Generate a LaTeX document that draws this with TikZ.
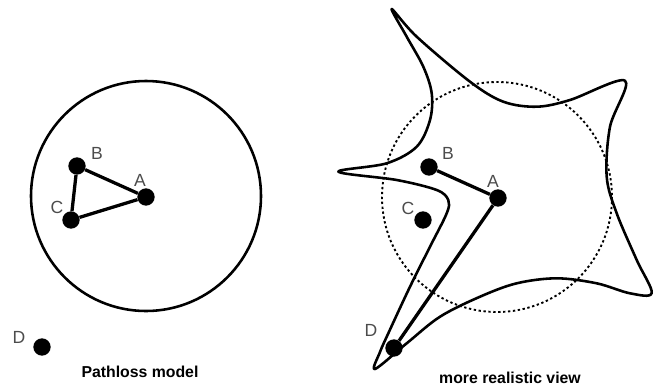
\documentclass[tikz,border=0pt]{standalone}
\usepackage{fontspec}
\setmainfont{Liberation Sans}
\usetikzlibrary{positioning}

\begin{document}
\begin{tikzpicture}[x=0.03cm,y=-0.03cm,
  dot/.style={circle,fill=black,inner sep=0pt,minimum size=0.52cm},
  lbl/.style={text=black!70,font=\fontsize{15}{15}\selectfont},
  captxt/.style={font=\bfseries\fontsize{13.5}{13.5}\selectfont},
  link/.style={line width=2.8pt}]
  \useasboundingbox (0,0) rectangle (654,386);

  % pathloss model
  \draw[line width=2.2pt] (146,196) circle[radius=115];
  \node[dot] (A1) at (146,197) {};
  \node[dot] (B1) at (77,166) {};
  \node[dot] (C1) at (71,220) {};
  \node[dot] (D1) at (42,347) {};
  \node[lbl] (lA1) at (140,180) {A};
  \node[lbl] (lB1) at (97,153) {B};
  \node[lbl] (lC1) at (57,207) {C};
  \node[lbl] (lD1) at (19,337) {D};
  \draw[link] (B1) -- (A1) -- (C1) -- (B1);
  \node[captxt] (pl) at (140,372) {Pathloss model};

  % more realistic view
  \draw[line width=1.6pt,dash pattern=on 2pt off 2.2pt] (497,197) circle[radius=115];
  \draw[line width=2.2pt,line join=round] plot[smooth cycle,tension=0.55] coordinates {
    (391.7,9) (416.7,36.7) (470,81.7) (503.3,101.7) (536.7,106.7) (570,100)
    (625,80.7) (610,126.7) (606.7,176.7) (616.7,213.3) (636.7,260)
    (651.7,293) (630,293.3) (596.7,283.3) (556.7,278.3) (516.7,283.3)
    (480,296.7) (440,316.7) (406.7,343.3) (375,369) (380,352)
    (388.3,333.3) (410,286.7) (430,246.7) (446.7,213.3) (448.3,200)
    (436.7,190) (396.7,180) (338.3,171.7) (386.7,163.3) (416.7,146.7)
    (430,120) (431.7,93.3) (423.3,66.7) (406.7,36.7)};
  \node[dot] (A2) at (498,198) {};
  \node[dot] (B2) at (429,167) {};
  \node[dot] (C2) at (423,220) {};
  \node[dot] (D2) at (394,348) {};
  \node[lbl] (lA2) at (493,181) {A};
  \node[lbl] (lB2) at (448,153) {B};
  \node[lbl] (lC2) at (408,208) {C};
  \node[lbl] (lD2) at (371,330) {D};
  \draw[link] (B2) -- (A2) -- (D2);
  \node[captxt] (rv) at (510,378) {more realistic view};
\end{tikzpicture}
\end{document}
